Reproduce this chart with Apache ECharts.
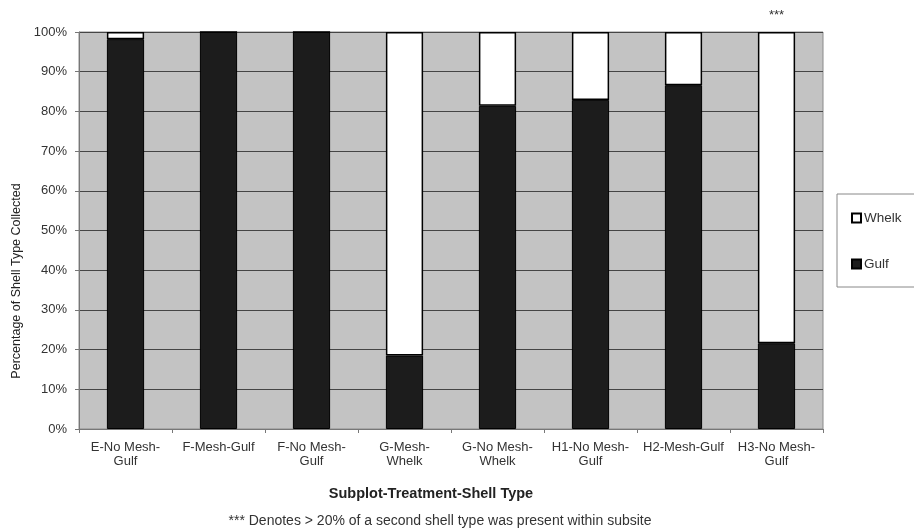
<!DOCTYPE html>
<html>
<head>
<meta charset="utf-8">
<script src="https://cdn.jsdelivr.net/npm/echarts@6/dist/echarts.min.js"></script>
<style>html,body{margin:0;padding:0;background:#fff}#c{width:914px;height:532px}</style>
</head>
<body>
<div id="c"></div>
<script>
var categories = ["E-No Mesh-\nGulf", "F-Mesh-Gulf", "F-No Mesh-\nGulf", "G-Mesh-\nWhelk", "G-No Mesh-\nWhelk", "H1-No Mesh-\nGulf", "H2-Mesh-Gulf", "H3-No Mesh-\nGulf"];
var gulf = [98.2, 100, 100, 18.5, 81.4, 82.9, 86.6, 21.6];
var whelk = [1.8, 0, 0, 81.5, 18.6, 17.1, 13.4, 78.4];
var flagged = [false, false, false, false, false, false, false, true];
var yTicks = [0, 10, 20, 30, 40, 50, 60, 70, 80, 90, 100];

var FONT = '"Liberation Sans", Arial, sans-serif';
var chart = echarts.init(document.getElementById('c'));
chart.setOption({
  animation: false,
  textStyle: {fontFamily: FONT},
  grid: {left: 79, right: 91, top: 32, bottom: 103, show: true, backgroundColor: '#c3c3c3', borderColor: '#8a8a8a', borderWidth: 1},
  legend: {
    orient: 'vertical', left: 837, top: 194,
    data: [{name: 'Whelk', icon: 'rect'}, {name: 'Gulf', icon: 'rect'}],
    itemWidth: 9, itemHeight: 9, itemGap: 32,
    padding: [17, 30, 16, 14],
    borderColor: '#888', borderWidth: 1,
    textStyle: {fontSize: 13.5, color: '#333', fontFamily: FONT, padding: [0, 0, 0, -2]}
  },
  xAxis: {
    type: 'category', data: categories,
    axisLine: {lineStyle: {color: '#777'}},
    axisTick: {show: true, alignWithLabel: false, length: 4, lineStyle: {color: '#777'}},
    axisLabel: {fontSize: 13, color: '#333', interval: 0, lineHeight: 14, margin: 11, fontFamily: FONT}
  },
  yAxis: {
    type: 'value', min: yTicks[0], max: yTicks[yTicks.length - 1], interval: 10,
    axisLine: {show: true, lineStyle: {color: '#777'}},
    axisTick: {show: true, length: 4, lineStyle: {color: '#777'}},
    axisLabel: {formatter: '{value}%', fontSize: 13, color: '#333', margin: 12, fontFamily: FONT},
    splitLine: {lineStyle: {color: '#454545', width: 1}}
  },
  series: [
    {
      name: 'Gulf', type: 'bar', stack: 's', barWidth: '40%', data: gulf,
      itemStyle: {color: '#1c1c1c', borderColor: '#000', borderWidth: 1}
    },
    {
      name: 'Whelk', type: 'bar', stack: 's', barWidth: '40%',
      data: whelk.map(function (v, i) {
        return flagged[i] ? {value: v, label: {show: true, position: 'top', distance: 10, formatter: '***', fontSize: 13, color: '#333'}} : v;
      }),
      itemStyle: {color: '#ffffff', borderColor: '#000', borderWidth: 1.5}
    }
  ],
  graphic: [
    {type: 'text', x: 17, y: 281, rotation: Math.PI / 2, style: {text: 'Percentage of Shell Type Collected', font: '12.5px ' + FONT, fill: '#222', align: 'center', verticalAlign: 'middle'}},
    {type: 'text', x: 431, y: 494, style: {text: 'Subplot-Treatment-Shell Type', font: 'bold 14.5px ' + FONT, fill: '#222', align: 'center', verticalAlign: 'middle'}},
    {type: 'text', x: 440, y: 521, style: {text: '*** Denotes > 20% of a second shell type was present within subsite', font: '14px ' + FONT, fill: '#333', align: 'center', verticalAlign: 'middle'}}
  ]
});
</script>
</body>
</html>
